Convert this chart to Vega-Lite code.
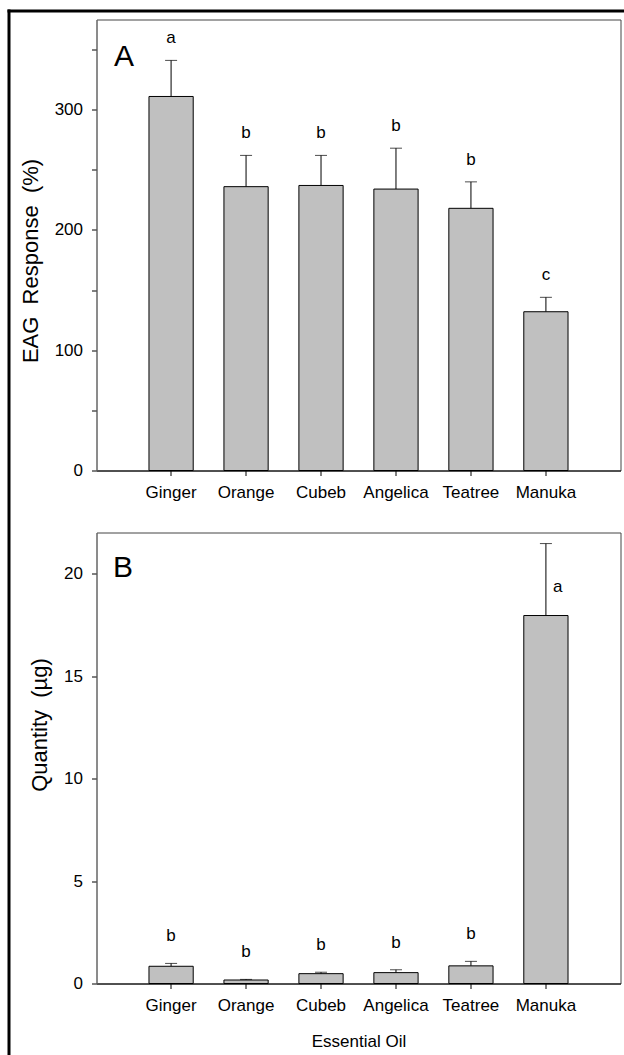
{
  "$schema": "https://vega.github.io/schema/vega-lite/v6.json",
  "background": "white",
  "padding": {"left": 7.5, "top": 9.5, "right": 0, "bottom": 0},
  "spacing": 62,
  "bounds": "flush",
  "config": {
    "font": "Liberation Sans",
    "view": {"stroke": "#444", "strokeWidth": 1},
    "axis": {"grid": false, "labelFont": "Liberation Sans", "titleFont": "Liberation Sans", "labelColor": "black", "titleColor": "black", "titleFontWeight": "normal", "labelFontSize": 17, "titleFontSize": 17, "tickColor": "black", "tickSize": 5}
  },
  "datasets": {
    "eag": [
      {"oil": "Ginger", "mean": 311, "upper": 341, "letter": "a"},
      {"oil": "Orange", "mean": 236, "upper": 262, "letter": "b"},
      {"oil": "Cubeb", "mean": 237, "upper": 262, "letter": "b"},
      {"oil": "Angelica", "mean": 234, "upper": 268, "letter": "b"},
      {"oil": "Teatree", "mean": 218, "upper": 240, "letter": "b"},
      {"oil": "Manuka", "mean": 132, "upper": 144, "letter": "c"}
    ],
    "qty": [
      {"oil": "Ginger", "mean": 0.84, "upper": 0.98, "letter": "b", "lpos": "above"},
      {"oil": "Orange", "mean": 0.17, "upper": 0.2, "letter": "b", "lpos": "above"},
      {"oil": "Cubeb", "mean": 0.48, "upper": 0.55, "letter": "b", "lpos": "above"},
      {"oil": "Angelica", "mean": 0.53, "upper": 0.67, "letter": "b", "lpos": "above"},
      {"oil": "Teatree", "mean": 0.86, "upper": 1.08, "letter": "b", "lpos": "above"},
      {"oil": "Manuka", "mean": 17.95, "upper": 21.46, "letter": "a", "lpos": "right"}
    ],
    "panels": [
      {"panel": "A"},
      {"panel": "B"}
    ]
  },
  "vconcat": [
    {
      "width": 524,
      "height": 451,
      "resolve": {"scale": {"x": "independent", "y": "independent"}, "axis": {"x": "independent", "y": "independent"}},
      "layer": [
        {
          "data": {"name": "eag"},
          "encoding": {
            "x": {"field": "oil", "type": "nominal", "sort": null,
              "scale": {"paddingInner": 0.41, "paddingOuter": 0.7},
              "axis": {"title": null, "labelAngle": 0, "labelPadding": 9, "domainColor": "black", "tickSize": 5, "orient": "bottom"}}
          },
          "layer": [
            {"mark": {"type": "rule", "color": "black", "strokeWidth": 1},
             "encoding": {"y": {"field": "mean", "type": "quantitative"}, "y2": {"field": "upper"}}},
            {"mark": {"type": "bar", "fill": "#c0c0c0", "stroke": "black", "strokeWidth": 1},
             "encoding": {"y": {"field": "mean", "type": "quantitative", "scale": {"domain": [0, 375], "nice": false},
               "axis": {"title": "EAG\u00a0 Response\u00a0 (%)", "titleFontSize": 22, "titleY": 241, "orient": "left", "values": [0, 50, 100, 150, 200, 250, 300, 350], "labelExpr": "datum.value % 100 === 0 ? datum.label : ''", "domainColor": "#777", "labelPadding": 9, "titlePadding": 12}}}},
            {"mark": {"type": "tick", "orient": "horizontal", "size": 12, "thickness": 1, "color": "black"},
             "encoding": {"y": {"field": "upper", "type": "quantitative"}}},
            {"mark": {"type": "text", "dy": -17, "baseline": "alphabetic", "fontSize": 17, "color": "black"},
             "encoding": {"y": {"field": "upper", "type": "quantitative"}, "text": {"field": "letter"}}},
            {"data": {"name": "panels"},
             "transform": [{"filter": "datum.panel === 'A'"}],
             "mark": {"type": "text", "align": "left", "baseline": "alphabetic", "fontSize": 30, "dx": -57, "dy": 46, "color": "black"},
             "encoding": {"x": {"datum": "Ginger"}, "y": {"datum": 375}, "text": {"field": "panel"}}}
          ]
        },
        {
          "data": {"name": "panels"},
          "mark": {"type": "point", "opacity": 0},
          "encoding": {
            "x": {"field": "panel", "type": "nominal", "scale": {"range": [-89.5, 527]},
              "axis": {"orient": "top", "offset": 9, "domainColor": "black", "domainWidth": 3, "ticks": false, "labels": false, "title": null}},
            "y": {"field": "panel", "type": "nominal", "scale": {"range": [-10.5, 1035]},
              "axis": {"orient": "left", "offset": 88, "domainColor": "black", "domainWidth": 3, "ticks": false, "labels": false, "title": null}}
          }
        }
      ]
    },
    {
      "width": 524,
      "height": 451,
      "data": {"name": "qty"},
      "encoding": {
        "x": {"field": "oil", "type": "nominal", "sort": null,
          "scale": {"paddingInner": 0.41, "paddingOuter": 0.7},
          "axis": {"title": "Essential Oil", "labelAngle": 0, "labelPadding": 9, "titlePadding": 20, "domainColor": "black", "tickSize": 5}}
      },
      "layer": [
        {"mark": {"type": "rule", "color": "black", "strokeWidth": 1},
         "encoding": {"y": {"field": "mean", "type": "quantitative"}, "y2": {"field": "upper"}}},
        {"mark": {"type": "bar", "fill": "#c0c0c0", "stroke": "black", "strokeWidth": 1},
         "encoding": {"y": {"field": "mean", "type": "quantitative", "scale": {"domain": [0, 22], "nice": false},
           "axis": {"title": "Quantity\u00a0 (µg)", "titleFontSize": 22, "titleY": 192, "values": [0, 5, 10, 15, 20], "domainColor": "#777", "labelPadding": 9, "titlePadding": 12}}}},
        {"mark": {"type": "tick", "orient": "horizontal", "size": 12, "thickness": 1, "color": "black"},
         "encoding": {"y": {"field": "upper", "type": "quantitative"}}},
        {"transform": [{"filter": "datum.lpos === 'above'"}],
         "mark": {"type": "text", "dy": -22, "baseline": "alphabetic", "fontSize": 17, "color": "black"},
         "encoding": {"y": {"field": "upper", "type": "quantitative"}, "text": {"field": "letter"}}},
        {"transform": [{"filter": "datum.lpos === 'right'"}],
         "mark": {"type": "text", "dx": 7, "dy": 48, "align": "left", "baseline": "alphabetic", "fontSize": 17, "color": "black"},
         "encoding": {"y": {"field": "upper", "type": "quantitative"}, "text": {"field": "letter"}}},
        {"data": {"name": "panels"},
         "transform": [{"filter": "datum.panel === 'B'"}],
         "mark": {"type": "text", "align": "left", "baseline": "alphabetic", "fontSize": 30, "dx": -58, "dy": 44, "color": "black"},
         "encoding": {"x": {"datum": "Ginger"}, "y": {"datum": 22}, "text": {"field": "panel"}}}
      ]
    }
  ]
}
